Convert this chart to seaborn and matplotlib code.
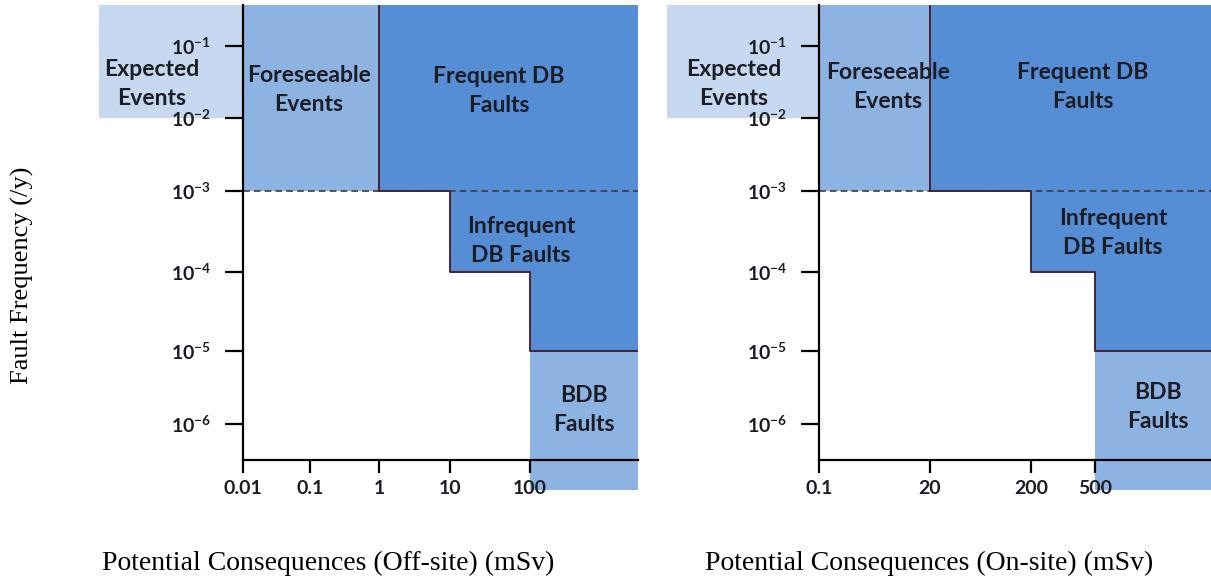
import numpy as np
import matplotlib
matplotlib.use('Agg')
import matplotlib.pyplot as plt
import seaborn as sns

# tick values / labels
off_site_ticks = [0.01, 0.1, 1, 10, 100]
off_site_labels = ['0.01', '0.1', '1', '10', '100']
on_site_ticks = [0.1, 20, 200, 500]
on_site_labels = ['0.1', '20', '200', '500']
freq_ticks = [1e-6, 1e-5, 1e-4, 1e-3, 1e-2, 1e-1]
freq_labels = [r'$\mathbf{10^{-6}}$', r'$\mathbf{10^{-5}}$', r'$\mathbf{10^{-4}}$',
               r'$\mathbf{10^{-3}}$', r'$\mathbf{10^{-2}}$', r'$\mathbf{10^{-1}}$']

region_names = ['Expected\nEvents', 'Foreseeable\nEvents', 'Frequent DB\nFaults',
                'Infrequent\nDB Faults', 'BDB\nFaults']

# dose boundaries: axis start, foreseeable|frequent, infrequent step, BDB step
off_site_dose = [0.01, 1, 10, 100]
on_site_dose = [0.1, 20, 200, 500]
# frequency boundaries: expected bottom, frequent|infrequent, infrequent step, DB|BDB
freq_bounds = [1e-2, 1e-3, 1e-4, 1e-5]

# outer extents of the drawn boxes
off_site_extent = [1e-4, 1e3]
on_site_extent = [1e-3, 5e3]
freq_extent = [1e-7, 10 ** -0.4]
freq_axis_min = 10 ** -6.5

# the original diagram is hand drawn, so the axes are piecewise log
W, H = 1211, 582
off_x_anchor = [1e-4, 0.01, 0.1, 1, 10, 100, 1e3]
off_x_px = [99, 243, 310, 379, 450, 530, 638]
on_x_anchor = [1e-3, 0.1, 20, 200, 500, 5e3]
on_x_px = [667, 819, 930, 1031, 1095, 1211]
y_anchor = [1e-7, 10 ** -6.5, 1e-6, 1e-5, 1e-4, 1e-3, 1e-2, 1e-1, 10 ** -0.4]
y_px = [490, 460, 424, 351, 272, 191, 118, 46, 5]


def make_scale(values, px):
    lv = np.log10(values)
    px = np.asarray(px, float)

    def fwd(v):
        v = np.log10(np.clip(np.asarray(v, float), 1e-300, None))
        return np.interp(v, lv, px)

    def inv(p):
        return 10 ** np.interp(p, px, lv)
    return fwd, inv


c_light = '#c6d9f1'
c_mid = '#8db3e2'
c_dark = '#558ed5'
c_edge = '#4a2232'
c_text = '#1c1c24'

sns.set_theme(style='ticks')
plt.rcParams['font.family'] = ['Lato', 'DejaVu Sans']
plt.rcParams['mathtext.fontset'] = 'custom'
plt.rcParams['mathtext.bf'] = 'Lato:bold'
plt.rcParams['mathtext.rm'] = 'Lato'
plt.rcParams['axes.axisbelow'] = False

fig = plt.figure(figsize=(W / 100, H / 100), dpi=100)


def draw_panel(x_px, x_anchor, dose, x_ext, ticks, labels):
    left, right = x_px[1], x_px[-1]
    ax = fig.add_axes([left / W, 1 - 460 / H, (right - left) / W, 455 / H])
    ax.set_xscale('function', functions=make_scale(x_anchor, x_px))
    ax.set_yscale('function', functions=make_scale(y_anchor, [-p for p in y_px]))
    x_lo, x_hi = x_ext
    y_lo, y_hi = freq_extent
    fb = freq_bounds

    ax.fill_between([x_lo, dose[0]], fb[0], y_hi, color=c_light, lw=0, clip_on=False, zorder=0.5)
    ax.fill_between([dose[0], dose[1]], fb[1], y_hi, color=c_mid, lw=0, clip_on=False, zorder=0.5)
    ax.fill_between([dose[1], dose[2], dose[3], x_hi], [fb[1], fb[2], fb[3], fb[3]], y_hi,
                    step='post', color=c_dark, lw=0, clip_on=False, zorder=0.5)
    ax.fill_between([dose[3], x_hi], y_lo, fb[3], color=c_mid, lw=0, clip_on=False, zorder=0.5)

    ax.plot([dose[0], x_hi], [fb[1], fb[1]], ls=(0, (4, 2.5)), color='#3a3a40', lw=1.2)
    stair_x = [dose[1], dose[1], dose[2], dose[2], dose[3], dose[3], x_hi]
    stair_y = [y_hi, fb[1], fb[1], fb[2], fb[2], fb[3], fb[3]]
    sns.lineplot(x=stair_x, y=stair_y, sort=False, estimator=None, ax=ax,
                 color=c_edge, lw=1.4)

    ax.set_xlim(dose[0], x_hi)
    ax.set_ylim(freq_axis_min, y_hi)
    ax.set_xticks(ticks, labels)
    ax.set_yticks(freq_ticks, freq_labels)
    ax.xaxis.set_minor_locator(matplotlib.ticker.NullLocator())
    ax.yaxis.set_minor_locator(matplotlib.ticker.NullLocator())
    ax.set_xlabel('')
    ax.set_ylabel('')
    ax.patch.set_alpha(0)
    sns.despine(ax=ax)
    for s in ['left', 'bottom']:
        ax.spines[s].set_color('black')
        ax.spines[s].set_linewidth(1.6)
        ax.spines[s].set_zorder(5)
    ax.tick_params(axis='x', length=9.5, width=1.6, color='black', pad=5,
                   labelsize=14, labelcolor=c_text)
    ax.tick_params(axis='y', length=13, width=1.6, color='black', pad=10,
                   labelsize=14, labelcolor=c_text)
    for t in ax.get_xticklabels():
        t.set_fontweight('bold')
    return ax


ax1 = draw_panel(off_x_px, off_x_anchor, off_site_dose, off_site_extent,
                 off_site_ticks, off_site_labels)
ax2 = draw_panel(on_x_px, on_x_anchor, on_site_dose, on_site_extent,
                 on_site_ticks, on_site_labels)


def label(px, py, s, **kw):
    fig.text(px / W, 1 - py / H, s, ha='center', va='center', **kw)


off_label_px = [(152, 84), (309, 90), (499, 91), (521, 241), (584, 410)]
on_label_px = [(734, 84), (888, 87), (1083, 87), (1113, 233), (1158, 407)]
for pos in (off_label_px, on_label_px):
    for name, (px, py) in zip(region_names, pos):
        label(px, py, name, fontsize=16.5, fontweight='bold', color=c_text,
              linespacing=1.5, zorder=10)

serif = ['Liberation Serif', 'DejaVu Serif']
label(22, 275, 'Fault Frequency (/y)', rotation=90, fontsize=19, family=serif, color='black')
label(328, 563, 'Potential Consequences (Off-site) (mSv)', fontsize=20, family=serif, color='black')
label(929, 563, 'Potential Consequences (On-site) (mSv)', fontsize=20, family=serif, color='black')

fig.savefig('out.png', dpi=100, facecolor='white')
